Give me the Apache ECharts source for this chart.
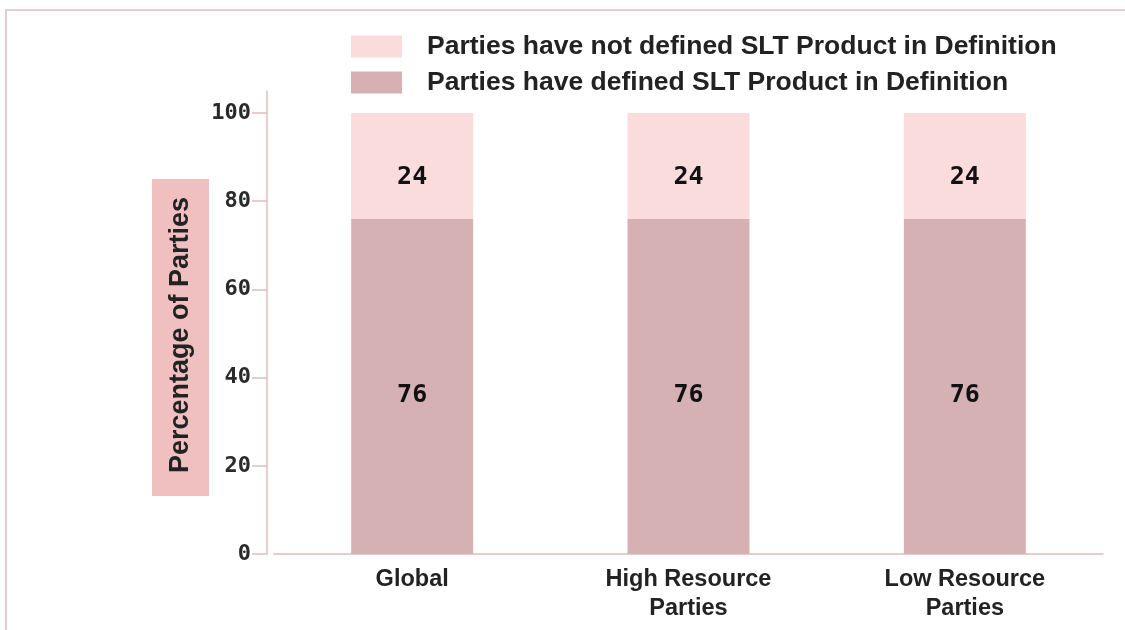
<!DOCTYPE html>
<html>
<head>
<meta charset="utf-8">
<title>SLT Product in Definition</title>
<script src="https://cdn.jsdelivr.net/npm/echarts@6/dist/echarts.min.js"></script>
<style>
  html, body { margin: 0; padding: 0; background: #ffffff; }
  #chart { width: 1125px; height: 630px; }
</style>
</head>
<body>
<div id="chart"></div>
<script>
// Groups of parties along the x axis
const categories = ['Global', 'High Resource\nParties', 'Low Resource\nParties'];

// Share of parties (%) in each group
const definedShare = [76, 76, 76];
const notDefinedShare = [24, 24, 24];

// Value-axis tick labels
const yTicks = [0, 20, 40, 60, 80, 100];

const seriesNames = {
  defined: 'Parties have defined SLT Product in Definition',
  notDefined: 'Parties have not defined SLT Product in Definition'
};

const colors = {
  defined: '#d5b1b4',
  notDefined: '#fadcdd',
  axis: '#dcbcc0',
  frame: '#e6cdd0',
  titleBox: '#f0c0c0',
  text: '#222222'
};

const sansBold = { fontFamily: '"Liberation Sans", Arial, sans-serif', fontWeight: 'bold' };
const monoBold = { fontFamily: '"DejaVu Sans Mono", monospace', fontWeight: 'bold' };

function valueLabel(dy) {
  return {
    show: true,
    position: 'inside',
    offset: [0, dy],
    color: '#111111',
    fontSize: 25,
    ...monoBold
  };
}

const chart = echarts.init(document.getElementById('chart'), null, { renderer: 'canvas' });

chart.setOption({
  animation: false,
  backgroundColor: '#ffffff',
  legend: {
    orient: 'vertical',
    left: 351,
    top: 33,
    padding: 0,
    itemWidth: 51,
    itemHeight: 22,
    itemGap: 9,
    icon: 'rect',
    data: [seriesNames.notDefined, seriesNames.defined],
    textStyle: {
      color: colors.text,
      fontSize: 26.5,
      lineHeight: 22,
      padding: [0, 0, 0, 20],
      ...sansBold
    }
  },
  grid: {
    left: 274,
    width: 829,
    top: 91,
    bottom: 76,
    containLabel: false
  },
  xAxis: {
    type: 'category',
    data: categories,
    axisLine: { lineStyle: { color: colors.axis, width: 1.5 } },
    axisTick: { show: false },
    axisLabel: {
      color: colors.text,
      fontSize: 23.5,
      lineHeight: 29,
      margin: 11,
      ...sansBold
    }
  },
  yAxis: {
    type: 'value',
    min: 0,
    max: 105,
    offset: 7,
    splitLine: { show: false },
    axisLine: { show: true, lineStyle: { color: colors.axis, width: 1.5 } },
    axisTick: {
      show: true,
      length: 15,
      customValues: yTicks,
      lineStyle: { color: colors.axis, width: 1.5 }
    },
    axisLabel: {
      customValues: yTicks,
      margin: 16,
      color: '#2a2a2a',
      fontSize: 22,
      ...monoBold
    }
  },
  graphic: [
    {
      // thin frame along the top and left edges
      type: 'polyline',
      silent: true,
      shape: { points: [[6, 630], [6, 10], [1125, 10]] },
      style: { stroke: colors.frame, lineWidth: 2, fill: null }
    },
    {
      type: 'group',
      left: 152,
      top: 179,
      children: [
        {
          type: 'rect',
          shape: { x: 0, y: 0, width: 57, height: 317 },
          style: { fill: colors.titleBox }
        },
        {
          type: 'text',
          x: 29,
          y: 156,
          rotation: Math.PI / 2,
          style: {
            text: 'Percentage of Parties',
            fill: colors.text,
            font: 'bold 27px "Liberation Sans", Arial, sans-serif',
            textAlign: 'center',
            textVerticalAlign: 'middle'
          }
        }
      ]
    }
  ],
  series: [
    {
      name: seriesNames.defined,
      type: 'bar',
      stack: 'share',
      barWidth: 122,
      data: definedShare,
      itemStyle: { color: colors.defined },
      label: valueLabel(9)
    },
    {
      name: seriesNames.notDefined,
      type: 'bar',
      stack: 'share',
      barWidth: 122,
      data: notDefinedShare,
      itemStyle: { color: colors.notDefined },
      label: valueLabel(12)
    }
  ]
});
</script>
</body>
</html>
